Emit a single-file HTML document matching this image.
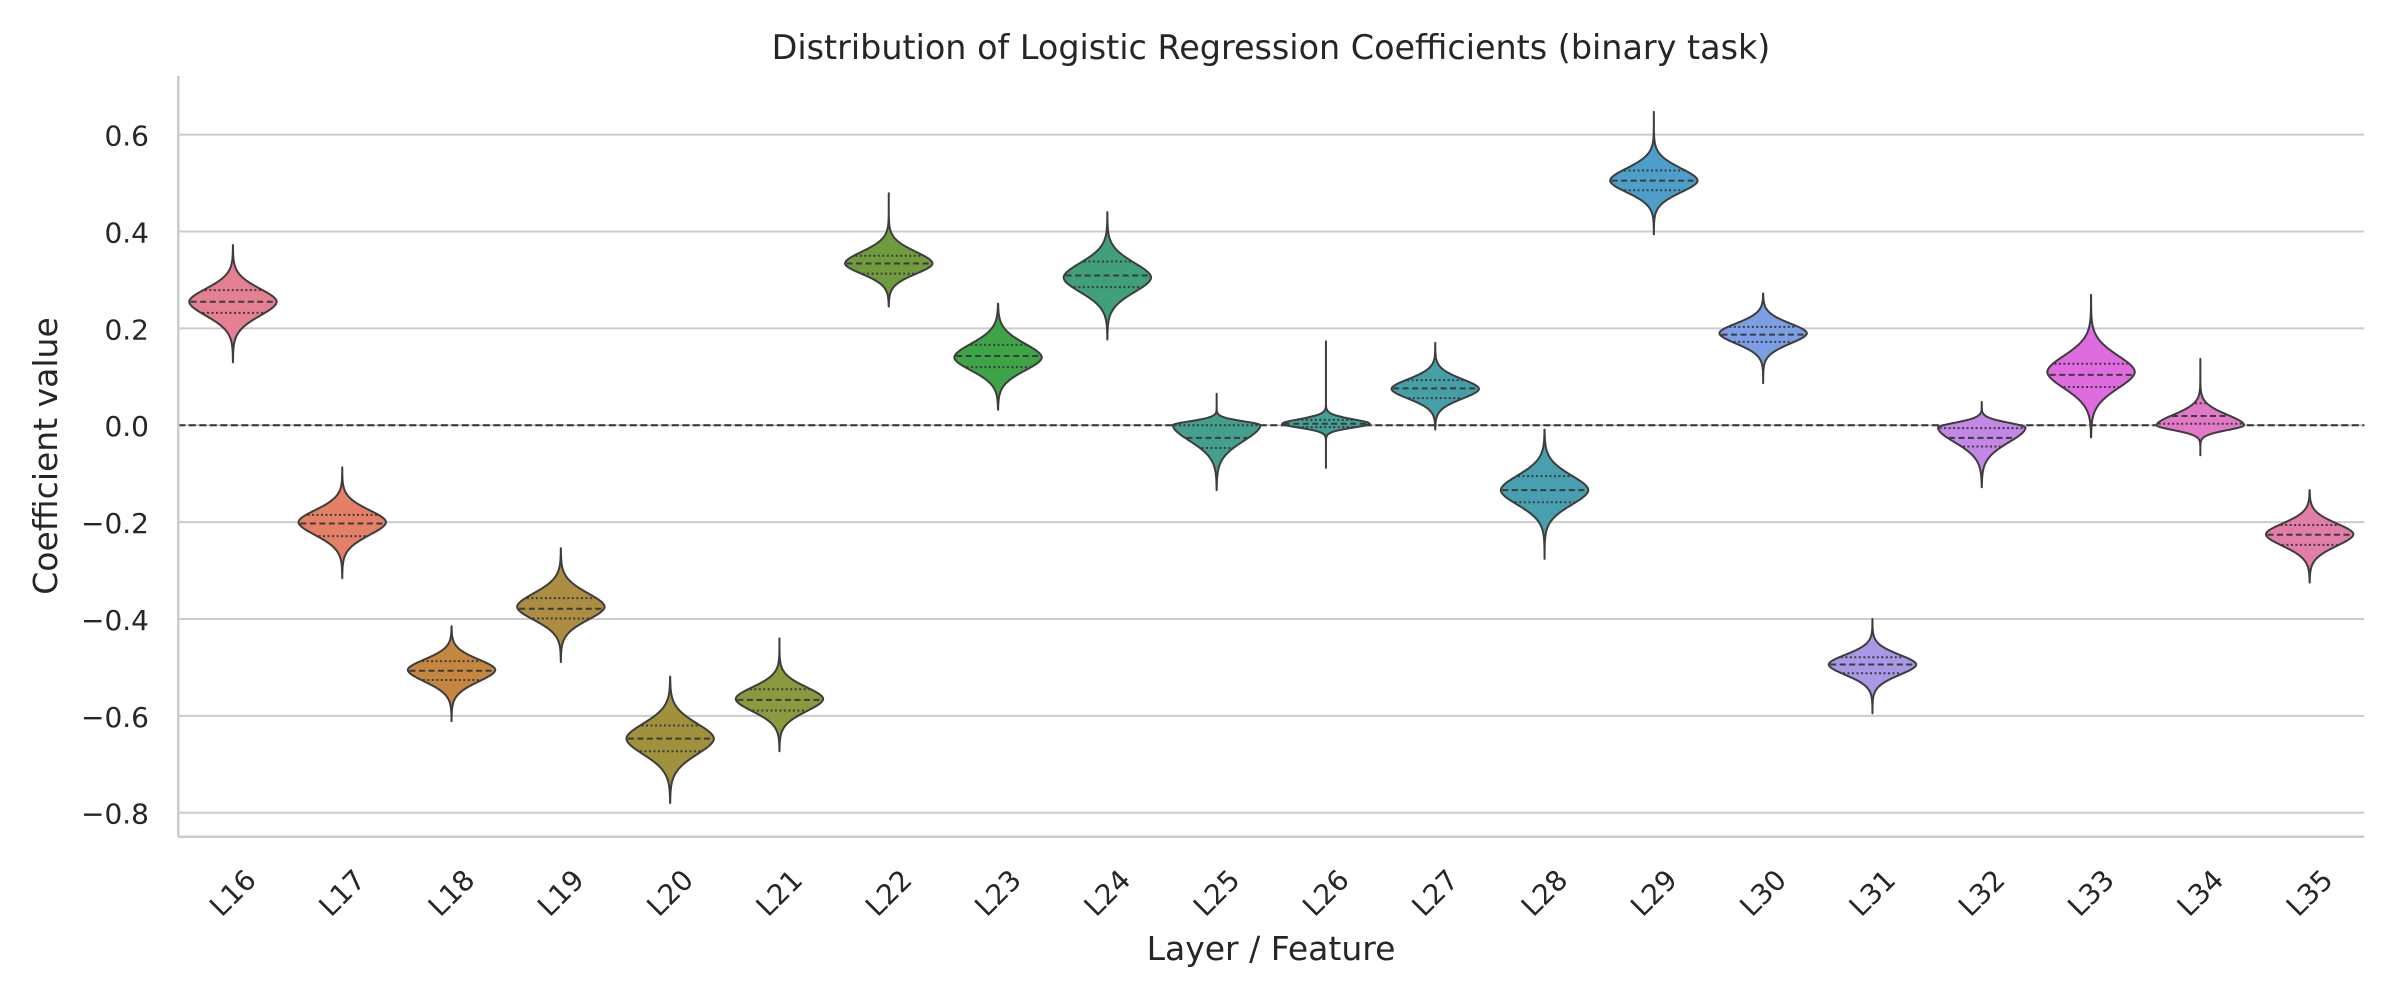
<!DOCTYPE html>
<html><head><meta charset="utf-8"><style>
html,body{margin:0;padding:0;background:#fff;}
svg text{font-family:"DejaVu Sans","Liberation Sans",sans-serif;fill:#262626;}
</style></head><body>
<svg id="chart" width="2400" height="1000" viewBox="0 0 2400 1000" xmlns="http://www.w3.org/2000/svg">
<rect width="2400" height="1000" fill="#fff"/>
<text x="1271" y="59" font-size="33.4" text-anchor="middle">Distribution of Logistic Regression Coefficients (binary task)</text>
<g id="grid"></g>
<g id="yticks"></g>
<g id="xticks"></g>
<g id="violins"></g>
<line x1="178.3" y1="76" x2="178.3" y2="836.7" stroke="#cccccc" stroke-width="2.5"/>
<line x1="178.3" y1="836.7" x2="2364.3" y2="836.7" stroke="#cccccc" stroke-width="2.5"/>
<text transform="translate(57,456) rotate(-90)" font-size="33" text-anchor="middle">Coefficient value</text>
<text x="1271" y="960" font-size="33" text-anchor="middle">Layer / Feature</text>
</svg>
<script>
const categories = ["L16","L17","L18","L19","L20","L21","L22","L23","L24","L25","L26","L27","L28","L29","L30","L31","L32","L33","L34","L35"];
const modes = [0.255,-0.200,-0.505,-0.375,-0.647,-0.565,0.334,0.140,0.305,0.000,0.003,0.075,-0.134,0.505,0.190,-0.494,-0.005,0.110,0.000,-0.225];
const lows = [0.130,-0.316,-0.611,-0.489,-0.780,-0.673,0.245,0.032,0.177,-0.134,-0.088,-0.009,-0.276,0.394,0.087,-0.595,-0.128,-0.025,-0.062,-0.325];
const highs = [0.372,-0.087,-0.415,-0.254,-0.519,-0.440,0.479,0.251,0.440,0.065,0.173,0.170,-0.009,0.647,0.272,-0.400,0.048,0.269,0.137,-0.134];
const q1s = [0.232,-0.229,-0.526,-0.399,-0.673,-0.589,0.313,0.120,0.285,-0.047,-0.004,0.056,-0.159,0.485,0.172,-0.512,-0.044,0.079,0.003,-0.247];
const medians = [0.255,-0.203,-0.507,-0.379,-0.647,-0.567,0.334,0.143,0.309,-0.026,0.003,0.076,-0.134,0.505,0.187,-0.494,-0.026,0.104,0.019,-0.226];
const q3s = [0.279,-0.185,-0.487,-0.357,-0.620,-0.545,0.350,0.166,0.338,0.000,0.011,0.093,-0.105,0.526,0.203,-0.479,-0.006,0.127,0.045,-0.206];
const spreadUp = [0.040,0.037,0.032,0.042,0.046,0.036,0.036,0.042,0.045,0.012,0.014,0.030,0.045,0.038,0.030,0.030,0.015,0.050,0.032,0.033];
const spreadDown = [0.043,0.040,0.036,0.040,0.048,0.038,0.032,0.040,0.045,0.048,0.012,0.030,0.045,0.036,0.032,0.032,0.045,0.050,0.015,0.036];
const colors = ["#e58093","#e38065","#c5873f","#ad8d42","#a0923d","#8a9a3f","#709c3e","#3da447","#40a07a","#42a08c","#419f96","#44a0a6","#479fb0","#4d9fca","#7b9ee5","#a898e5","#c387e6","#e06ae0","#e278c6","#e27ca8"];
const yTicks = [0.6,0.4,0.2,0.0,-0.2,-0.4,-0.6,-0.8];

const NS = "http://www.w3.org/2000/svg";
const X0 = 178.3, X1 = 2364.3, YT = 76, YB = 836.7, YMAX = 0.721, YMIN = -0.8495;
function xScale(i){ return X0 + (i + 0.5) * (X1 - X0) / categories.length; }
function yScale(v){ return YT + (YMAX - v) / (YMAX - YMIN) * (YB - YT); }
const halfW = 0.4 * (X1 - X0) / categories.length;
function mk(tag, attrs, parent){ const e = document.createElementNS(NS, tag); for (const k in attrs) e.setAttribute(k, attrs[k]); parent.appendChild(e); return e; }

const grid = document.getElementById('grid');
const yt = document.getElementById('yticks');
yTicks.forEach(t => {
  const g = mk('line', {x1:X0, x2:X1, y1:yScale(t), y2:yScale(t), stroke:'#cccccc', 'stroke-width':2}, grid);
  
  
  const tx = mk('text', {x:149, y:yScale(t)+11, 'font-size':28, 'text-anchor':'end'}, yt);
  tx.textContent = (t < 0 ? '\u2212' : '') + Math.abs(t).toFixed(1);
  
  
});
const zl = mk('line', {x1:X0, x2:X1, y1:yScale(0), y2:yScale(0), stroke:'#333', 'stroke-width':2, 'stroke-dasharray':'7,3.5'}, grid);



const xt = document.getElementById('xticks');
categories.forEach((c, i) => {
  const tx = mk('text', {transform:`translate(${xScale(i)},${893}) rotate(-45)`, 'font-size':28, 'text-anchor':'middle', 'dominant-baseline':'central'}, xt);
  tx.textContent = c;
  
  
});

function widthAt(i, v){
  const d = v - modes[i];
  const b = d >= 0 ? spreadUp[i] : spreadDown[i];
  return halfW * Math.exp(-Math.pow(Math.abs(d) / b, 1.85));
}
const vg = document.getElementById('violins');
categories.forEach((c, i) => {
  const cx = xScale(i);
  const N = 200;
  const right = [], left = [];
  for (let k = 0; k <= N; k++) {
    const v = highs[i] - (highs[i] - lows[i]) * k / N;
    const w = widthAt(i, v);
    right.push(`${(cx + w).toFixed(2)},${yScale(v).toFixed(2)}`);
    left.unshift(`${(cx - w).toFixed(2)},${yScale(v).toFixed(2)}`);
  }
  const g = mk('g', {}, vg);
  
  
  const p = mk('polygon', {points: right.concat(left).join(' '), fill: colors[i], stroke:'#3d3d3d', 'stroke-width':2, 'stroke-linejoin':'round'}, g);
  
  
  [[q1s[i],'2,2.5','quartile-line'],[medians[i],'6,3.5','median-line'],[q3s[i],'2,2.5','quartile-line']].forEach(q => {
    const w = widthAt(i, q[0]) - 1.5;
    if (w <= 0) return;
    const l = mk('line', {x1:cx - w, x2:cx + w, y1:yScale(q[0]), y2:yScale(q[0]), stroke:'#3c3c3c', 'stroke-width':2, 'stroke-dasharray':q[1]}, g);
    
    
  });
});
</script>
</body></html>
